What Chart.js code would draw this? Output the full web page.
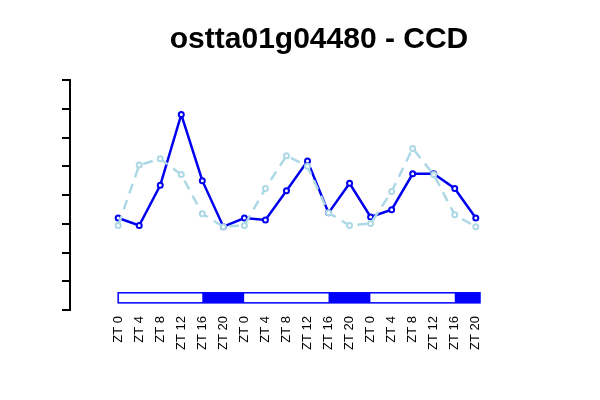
<!DOCTYPE html>
<html><head>
<script src="https://cdn.jsdelivr.net/npm/chart.js@4"></script>
<style>body{margin:0;background:#fff}#wrap{width:600px;height:400px}</style>
</head><body>
<div id="wrap"><canvas id="c"></canvas></div>
<script>
const titleText = 'ostta01g04480 - CCD';
const ztLabels = ['ZT 0','ZT 4','ZT 8','ZT 12','ZT 16','ZT 20','ZT 0','ZT 4','ZT 8','ZT 12','ZT 16','ZT 20','ZT 0','ZT 4','ZT 8','ZT 12','ZT 16','ZT 20'];
const seriesDark = [3.2,2.94,4.34,6.8,4.5,2.9,3.2,3.13,4.15,5.18,3.38,4.41,3.24,3.49,4.74,4.74,4.23,3.2];
const seriesLight = [2.94,5.04,5.26,4.71,3.35,2.9,2.94,4.23,5.37,5.0,3.38,2.94,3.01,4.12,5.62,4.71,3.31,2.9];
// light/dark bar segments in x-index units: [start, end, dark?]
const lightDark = [[0,4,false],[4,6,true],[6,10,false],[10,12,true],[12,16,false],[16,17.2,true]];

const pts = arr => arr.map((v, i) => ({x: i, y: v}));

const extras = {
  id: 'extras',
  afterDraw(chart) {
    const ctx = chart.ctx, xs = chart.scales.x, ys = chart.scales.y;
    const top = ys.getPixelForValue(0.6), bot = ys.getPixelForValue(0.25);
    ctx.save();
    lightDark.forEach(([a, b, dark]) => {
      const x0 = xs.getPixelForValue(a), x1 = xs.getPixelForValue(b);
      ctx.fillStyle = dark ? '#0000ff' : '#ffffff';
      ctx.fillRect(x0, top, x1 - x0, bot - top);
    });
    ctx.strokeStyle = '#0000ff';
    ctx.lineWidth = 1.5;
    const s = xs.getPixelForValue(lightDark[0][0]), e = xs.getPixelForValue(lightDark[lightDark.length - 1][1]);
    ctx.strokeRect(s, top, e - s, bot - top);
    ctx.fillStyle = '#000';
    ctx.font = 'bold 30px "Liberation Sans", Arial, sans-serif';
    ctx.textAlign = 'center';
    ctx.textBaseline = 'middle';
    ctx.fillText(titleText, 319, 40);
    ctx.restore();
  }
};

new Chart(document.getElementById('c'), {
  type: 'line',
  data: {
    datasets: [
      {data: pts(seriesLight), borderColor: '#add8e6', borderWidth: 2.5, borderDash: [10, 7],
       pointRadius: 2.5, pointBorderWidth: 2, pointBackgroundColor: '#fff', pointBorderColor: '#add8e6', tension: 0},
      {data: pts(seriesDark), borderColor: '#0000ee', borderWidth: 2.5,
       pointRadius: 2.5, pointBorderWidth: 2, pointBackgroundColor: '#fff', pointBorderColor: '#0000ee', tension: 0}
    ]
  },
  options: {
    responsive: true, maintainAspectRatio: false, animation: false,
    layout: {padding: {top: 80, left: 60, right: 120, bottom: 50}},
    plugins: {legend: {display: false}, title: {display: false}, tooltip: {enabled: false}},
    scales: {
      x: {
        type: 'linear', min: -2.29, max: 17.2,
        afterBuildTicks: sc => { sc.ticks = ztLabels.map((_, i) => ({value: i})); },
        ticks: {callback: v => ztLabels[v], minRotation: 90, maxRotation: 90, autoSkip: false,
                color: '#000', font: {size: 13, family: '"Liberation Sans", Arial'}, padding: 0},
        grid: {display: false, drawTicks: true, tickLength: 6},
        border: {display: false}
      },
      y: {
        min: 0, max: 8,
        ticks: {stepSize: 1, display: false},
        afterFit: sc => { sc.width = 10; },
        grid: {drawOnChartArea: false, drawTicks: true, tickLength: 8, color: '#000', lineWidth: 2},
        border: {display: true, color: '#000', width: 2}
      }
    }
  },
  plugins: [extras]
});
</script>
</body></html>
